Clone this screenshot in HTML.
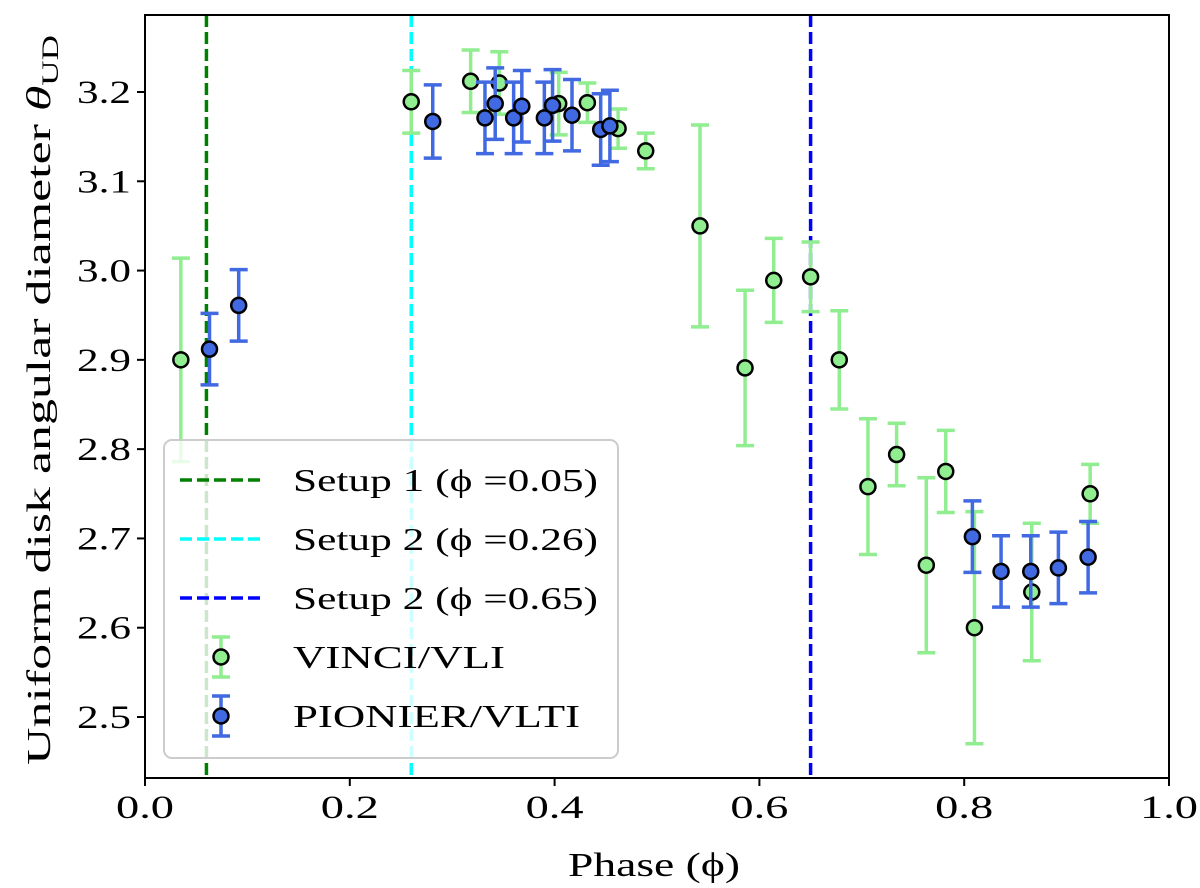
<!DOCTYPE html>
<html><head><meta charset="utf-8"><style>
body{margin:0;background:#fff}
svg{display:block;font-family:"Liberation Serif","DejaVu Serif",serif}
</style></head><body>
<svg id="chart" width="1200" height="888" viewBox="0 0 1200 888" xmlns="http://www.w3.org/2000/svg"></svg>
<script>
const vinciPhase=[0.035,0.260,0.318,0.346,0.404,0.432,0.462,0.489,0.542,0.586,0.614,0.650,0.678,0.706,0.734,0.763,0.782,0.810,0.866,0.923];
const vinciDiam=[2.900,3.189,3.212,3.210,3.187,3.188,3.159,3.134,3.050,2.891,2.989,2.993,2.900,2.758,2.794,2.670,2.775,2.600,2.640,2.750];
const vinciErr=[0.114,0.035,0.035,0.035,0.035,0.022,0.022,0.02,0.113,0.087,0.047,0.039,0.055,0.076,0.035,0.098,0.046,0.13,0.077,0.033];
const pionierPhase=[0.063,0.0915,0.281,0.332,0.342,0.360,0.368,0.390,0.398,0.417,0.445,0.454,0.808,0.836,0.865,0.892,0.921];
const pionierDiam=[2.912,2.961,3.167,3.171,3.187,3.171,3.184,3.171,3.185,3.174,3.158,3.162,2.702,2.663,2.663,2.667,2.679];
const pionierErr=[0.04,0.04,0.041,0.04,0.04,0.04,0.04,0.04,0.04,0.04,0.04,0.04,0.04,0.04,0.04,0.04,0.04];
const setupPhases=[0.06,0.26,0.65];
const setupColors=['#008000','#00ffff','#0000ff'];
const setupLabels=['Setup 1 (\u03D5 =0.05)','Setup 2 (\u03D5 =0.26)','Setup 2 (\u03D5 =0.65)'];
const xTicks=[0,0.2,0.4,0.6,0.8,1.0];
const xTickLabels=['0.0','0.2','0.4','0.6','0.8','1.0'];
const yTicks=[2.5,2.6,2.7,2.8,2.9,3.0,3.1,3.2];
const yTickLabels=['2.5','2.6','2.7','2.8','2.9','3.0','3.1','3.2'];

const L=145,R=1169,T=15,B=778;
const xMin=0,xMax=1,yMin=2.5-61/893,yMax=3.2+77/893;
const sx=v=>L+(v-xMin)/(xMax-xMin)*(R-L);
const sy=v=>B-(v-yMin)/(yMax-yMin)*(B-T);
const svg=document.getElementById('chart');
const NS='http://www.w3.org/2000/svg';
function mk(tag,attrs,parent){const e=document.createElementNS(NS,tag);for(const k in attrs)e.setAttribute(k,attrs[k]);(parent||svg).appendChild(e);return e;}

setupPhases.forEach((p,i)=>{
  const l=mk('line',{x1:sx(p),x2:sx(p),y1:T,y2:B,stroke:setupColors[i],'stroke-width':3.5,'stroke-dasharray':'12,5'});
  
  
});
function series(ph,d,er,color,name){
  const g=mk('g',{});
  
  
  ph.forEach((p,i)=>{
    const x=sx(p),y1=sy(d[i]+er[i]),y2=sy(d[i]-er[i]);
    const eb=mk('path',{d:`M${x},${y1}V${y2}M${x-9},${y1}H${x+9}M${x-9},${y2}H${x+9}`,stroke:color,'stroke-width':3.5,fill:'none'},g);
    
    
  });
  ph.forEach((p,i)=>{
    const c=mk('circle',{cx:sx(p),cy:sy(d[i]),r:7.5,fill:color,stroke:'#000','stroke-width':2.5},g);
    
    
  });
}
series(vinciPhase,vinciDiam,vinciErr,'#90ee90','vinci');
series(pionierPhase,pionierDiam,pionierErr,'#4169e1','pionier');

const lg=mk('g',{});


mk('rect',{x:164,y:440,width:454,height:318,rx:8,fill:'#fff','fill-opacity':0.8,stroke:'#ccc','stroke-width':2},lg);
const rows=[480,539,598,657,716];
const setupLens=[305,305,305];
setupLabels.forEach((t,i)=>{
  const le=mk('line',{x1:180,x2:262,y1:rows[i],y2:rows[i],stroke:setupColors[i],'stroke-width':3.5,'stroke-dasharray':'12,5'},lg);
  
  
  const tx=mk('text',{x:293,y:rows[i]+11,'font-size':32,textLength:setupLens[i],lengthAdjust:'spacingAndGlyphs'},lg);tx.textContent=t;
});
[['#90ee90','VINCI/VLI',212],['#4169e1','PIONIER/VLTI',287]].forEach((s,j)=>{
  const y=rows[3+j],x=221;
  mk('path',{d:`M${x},${y-20}V${y+20}M${x-9},${y-20}H${x+9}M${x-9},${y+20}H${x+9}`,stroke:s[0],'stroke-width':3.5,fill:'none'},lg);
  const c=mk('circle',{cx:x,cy:y,r:7.5,fill:s[0],stroke:'#000','stroke-width':2.5},lg);
  
  
  const tx=mk('text',{x:293,y:y+11,'font-size':32,textLength:s[2],lengthAdjust:'spacingAndGlyphs'},lg);tx.textContent=s[1];
});

const fr=mk('rect',{x:L,y:T,width:R-L,height:B-T,fill:'none',stroke:'#000','stroke-width':2});


xTicks.forEach((v,i)=>{
  mk('line',{x1:sx(v),x2:sx(v),y1:B,y2:B+8,stroke:'#000','stroke-width':2});
  const t=mk('text',{x:sx(v),y:818,'font-size':33,'text-anchor':'middle',textLength:58,lengthAdjust:'spacingAndGlyphs'});t.textContent=xTickLabels[i];
  
  
});
yTicks.forEach((v,i)=>{
  mk('line',{x1:L-8,x2:L,y1:sy(v),y2:sy(v),stroke:'#000','stroke-width':2});
  const t=mk('text',{x:131,y:sy(v)+11,'font-size':33,'text-anchor':'end',textLength:54,lengthAdjust:'spacingAndGlyphs'});t.textContent=yTickLabels[i];
  
  
});
const xt=mk('text',{x:654,y:876,'font-size':34,'text-anchor':'middle',textLength:172,lengthAdjust:'spacingAndGlyphs'});
xt.textContent='Phase (\u03D5)';


const yt=mk('text',{x:0,y:0,'font-size':34,'text-anchor':'middle',transform:'translate(50,400) rotate(-90)',textLength:730,lengthAdjust:'spacingAndGlyphs'});
yt.innerHTML='Uniform disk angular diameter <tspan font-style="italic">\u03B8</tspan><tspan font-size="23" dy="8">UD</tspan>';


</script>
</body></html>
